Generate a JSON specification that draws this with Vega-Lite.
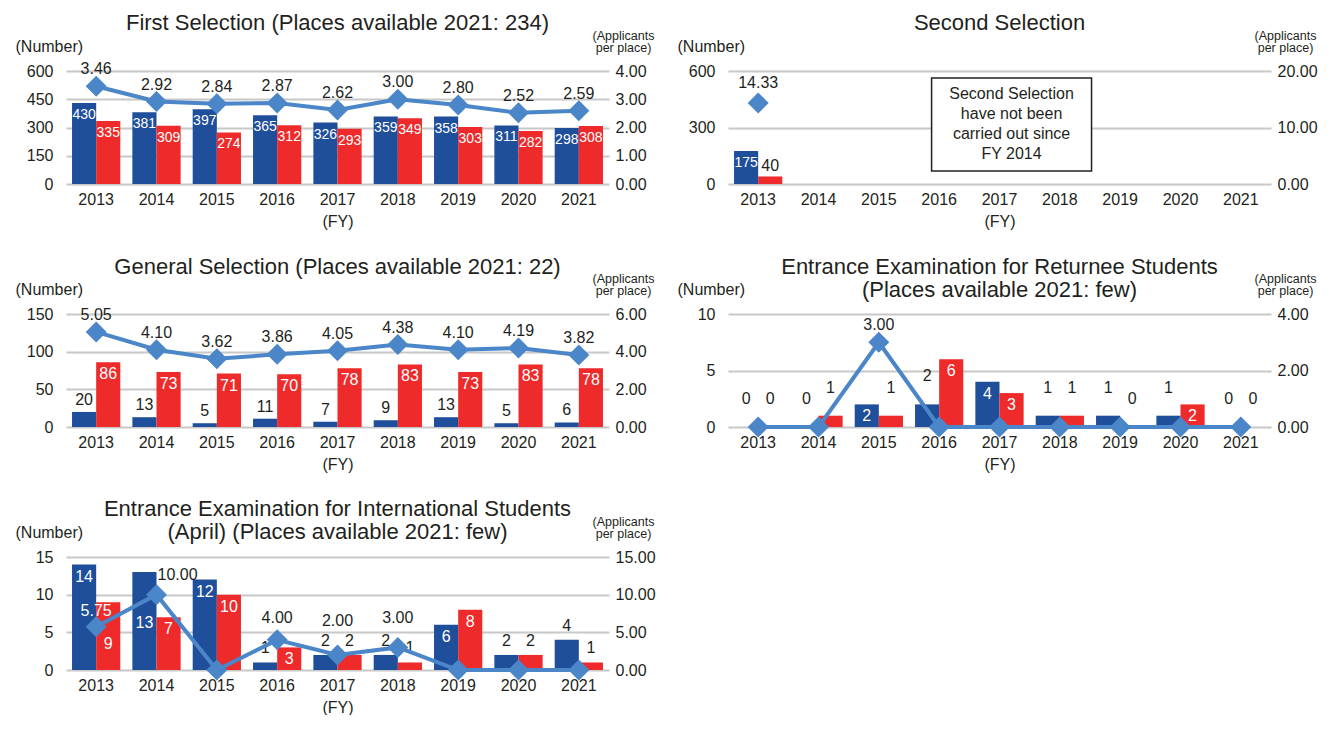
{
  "$schema": "https://vega.github.io/schema/vega-lite/v6.json",
  "background": "white",
  "padding": {"left": 15, "top": 12, "right": 0, "bottom": 0},
  "datasets": {
    "counts": [
      {"panel": "first", "year": "2013", "series": "S1", "value": 430},
      {"panel": "first", "year": "2014", "series": "S1", "value": 381},
      {"panel": "first", "year": "2015", "series": "S1", "value": 397},
      {"panel": "first", "year": "2016", "series": "S1", "value": 365},
      {"panel": "first", "year": "2017", "series": "S1", "value": 326},
      {"panel": "first", "year": "2018", "series": "S1", "value": 359},
      {"panel": "first", "year": "2019", "series": "S1", "value": 358},
      {"panel": "first", "year": "2020", "series": "S1", "value": 311},
      {"panel": "first", "year": "2021", "series": "S1", "value": 298},
      {"panel": "first", "year": "2013", "series": "S2", "value": 335},
      {"panel": "first", "year": "2014", "series": "S2", "value": 309},
      {"panel": "first", "year": "2015", "series": "S2", "value": 274},
      {"panel": "first", "year": "2016", "series": "S2", "value": 312},
      {"panel": "first", "year": "2017", "series": "S2", "value": 293},
      {"panel": "first", "year": "2018", "series": "S2", "value": 349},
      {"panel": "first", "year": "2019", "series": "S2", "value": 303},
      {"panel": "first", "year": "2020", "series": "S2", "value": 282},
      {"panel": "first", "year": "2021", "series": "S2", "value": 308},
      {"panel": "second", "year": "2013", "series": "S1", "value": 175},
      {"panel": "second", "year": "2013", "series": "S2", "value": 40},
      {"panel": "general", "year": "2013", "series": "S1", "value": 20},
      {"panel": "general", "year": "2014", "series": "S1", "value": 13},
      {"panel": "general", "year": "2015", "series": "S1", "value": 5},
      {"panel": "general", "year": "2016", "series": "S1", "value": 11},
      {"panel": "general", "year": "2017", "series": "S1", "value": 7},
      {"panel": "general", "year": "2018", "series": "S1", "value": 9},
      {"panel": "general", "year": "2019", "series": "S1", "value": 13},
      {"panel": "general", "year": "2020", "series": "S1", "value": 5},
      {"panel": "general", "year": "2021", "series": "S1", "value": 6},
      {"panel": "general", "year": "2013", "series": "S2", "value": 86},
      {"panel": "general", "year": "2014", "series": "S2", "value": 73},
      {"panel": "general", "year": "2015", "series": "S2", "value": 71},
      {"panel": "general", "year": "2016", "series": "S2", "value": 70},
      {"panel": "general", "year": "2017", "series": "S2", "value": 78},
      {"panel": "general", "year": "2018", "series": "S2", "value": 83},
      {"panel": "general", "year": "2019", "series": "S2", "value": 73},
      {"panel": "general", "year": "2020", "series": "S2", "value": 83},
      {"panel": "general", "year": "2021", "series": "S2", "value": 78},
      {"panel": "returnee", "year": "2013", "series": "S1", "value": 0},
      {"panel": "returnee", "year": "2014", "series": "S1", "value": 0},
      {"panel": "returnee", "year": "2015", "series": "S1", "value": 2},
      {"panel": "returnee", "year": "2016", "series": "S1", "value": 2},
      {"panel": "returnee", "year": "2017", "series": "S1", "value": 4},
      {"panel": "returnee", "year": "2018", "series": "S1", "value": 1},
      {"panel": "returnee", "year": "2019", "series": "S1", "value": 1},
      {"panel": "returnee", "year": "2020", "series": "S1", "value": 1},
      {"panel": "returnee", "year": "2021", "series": "S1", "value": 0},
      {"panel": "returnee", "year": "2013", "series": "S2", "value": 0},
      {"panel": "returnee", "year": "2014", "series": "S2", "value": 1},
      {"panel": "returnee", "year": "2015", "series": "S2", "value": 1},
      {"panel": "returnee", "year": "2016", "series": "S2", "value": 6},
      {"panel": "returnee", "year": "2017", "series": "S2", "value": 3},
      {"panel": "returnee", "year": "2018", "series": "S2", "value": 1},
      {"panel": "returnee", "year": "2019", "series": "S2", "value": 0},
      {"panel": "returnee", "year": "2020", "series": "S2", "value": 2},
      {"panel": "returnee", "year": "2021", "series": "S2", "value": 0},
      {"panel": "intl", "year": "2013", "series": "S1", "value": 14},
      {"panel": "intl", "year": "2014", "series": "S1", "value": 13},
      {"panel": "intl", "year": "2015", "series": "S1", "value": 12},
      {"panel": "intl", "year": "2016", "series": "S1", "value": 1},
      {"panel": "intl", "year": "2017", "series": "S1", "value": 2},
      {"panel": "intl", "year": "2018", "series": "S1", "value": 2},
      {"panel": "intl", "year": "2019", "series": "S1", "value": 6},
      {"panel": "intl", "year": "2020", "series": "S1", "value": 2},
      {"panel": "intl", "year": "2021", "series": "S1", "value": 4},
      {"panel": "intl", "year": "2013", "series": "S2", "value": 9},
      {"panel": "intl", "year": "2014", "series": "S2", "value": 7},
      {"panel": "intl", "year": "2015", "series": "S2", "value": 10},
      {"panel": "intl", "year": "2016", "series": "S2", "value": 3},
      {"panel": "intl", "year": "2017", "series": "S2", "value": 2},
      {"panel": "intl", "year": "2018", "series": "S2", "value": 1},
      {"panel": "intl", "year": "2019", "series": "S2", "value": 8},
      {"panel": "intl", "year": "2020", "series": "S2", "value": 2},
      {"panel": "intl", "year": "2021", "series": "S2", "value": 1}
    ],
    "rates": [
      {"panel": "first", "year": "2013", "rate": 3.46},
      {"panel": "first", "year": "2014", "rate": 2.92},
      {"panel": "first", "year": "2015", "rate": 2.84},
      {"panel": "first", "year": "2016", "rate": 2.87},
      {"panel": "first", "year": "2017", "rate": 2.62},
      {"panel": "first", "year": "2018", "rate": 3.00},
      {"panel": "first", "year": "2019", "rate": 2.80},
      {"panel": "first", "year": "2020", "rate": 2.52},
      {"panel": "first", "year": "2021", "rate": 2.59},
      {"panel": "second", "year": "2013", "rate": 14.33},
      {"panel": "general", "year": "2013", "rate": 5.05},
      {"panel": "general", "year": "2014", "rate": 4.10},
      {"panel": "general", "year": "2015", "rate": 3.62},
      {"panel": "general", "year": "2016", "rate": 3.86},
      {"panel": "general", "year": "2017", "rate": 4.05},
      {"panel": "general", "year": "2018", "rate": 4.38},
      {"panel": "general", "year": "2019", "rate": 4.10},
      {"panel": "general", "year": "2020", "rate": 4.19},
      {"panel": "general", "year": "2021", "rate": 3.82},
      {"panel": "returnee", "year": "2013", "rate": 0},
      {"panel": "returnee", "year": "2014", "rate": 0},
      {"panel": "returnee", "year": "2015", "rate": 3.00},
      {"panel": "returnee", "year": "2016", "rate": 0},
      {"panel": "returnee", "year": "2017", "rate": 0},
      {"panel": "returnee", "year": "2018", "rate": 0},
      {"panel": "returnee", "year": "2019", "rate": 0},
      {"panel": "returnee", "year": "2020", "rate": 0},
      {"panel": "returnee", "year": "2021", "rate": 0},
      {"panel": "intl", "year": "2013", "rate": 5.75},
      {"panel": "intl", "year": "2014", "rate": 10.00},
      {"panel": "intl", "year": "2015", "rate": 0},
      {"panel": "intl", "year": "2016", "rate": 4.00},
      {"panel": "intl", "year": "2017", "rate": 2.00},
      {"panel": "intl", "year": "2018", "rate": 3.00},
      {"panel": "intl", "year": "2019", "rate": 0},
      {"panel": "intl", "year": "2020", "rate": 0},
      {"panel": "intl", "year": "2021", "rate": 0}
    ],
    "notes": [
      {"panel": "second", "year": "2017", "series": "S2", "value": 316, "note": ["Second Selection", "have not been", "carried out since", "FY 2014"]}
    ]
  },
  "columns": 2,
  "spacing": {"row": 130, "column": 119},
  "bounds": "flush",
  "concat": [
    {
      "width": 543, "height": 113,
      "title": {"text": "First Selection (Places available 2021: 234)", "offset": -6},
      "layer": [
        {
          "data": {"name": "counts"},
          "transform": [{"filter": "datum.panel === 'first'"}],
          "encoding": {
            "x": {"field": "year", "type": "nominal", "scale": {"domain": ["2013","2014","2015","2016","2017","2018","2019","2020","2021"], "paddingInner": 0.2, "paddingOuter": 0.1}, "axis": {"title": "(FY)"}},
            "xOffset": {"field": "series", "type": "nominal", "scale": {"domain": ["S1", "S2"]}},
            "y": {"field": "value", "type": "quantitative", "scale": {"domain": [0, 600]}, "axis": {"orient": "left", "values": [0, 150, 300, 450, 600], "title": "(Number)"}}
          },
          "layer": [
            {"mark": {"type": "bar"}, "encoding": {"color": {"field": "series", "type": "nominal", "scale": {"domain": ["S1", "S2"], "range": ["#1F4E9A", "#EE2A2A"]}, "legend": null}}},
            {"mark": {"type": "text", "color": "white", "dy": 12, "fontSize": 14}, "encoding": {"text": {"field": "value", "type": "quantitative"}}}
          ]
        },
        {
          "data": {"name": "rates"},
          "transform": [{"filter": "datum.panel === 'first'"}],
          "encoding": {
            "x": {"field": "year", "type": "nominal", "axis": {"title": "(FY)"}},
            "y": {"field": "rate", "type": "quantitative", "scale": {"domain": [0, 4]}, "axis": {"orient": "right", "values": [0, 1, 2, 3, 4], "format": ".2f", "title": ["(Applicants", "per place)"]}}
          },
          "layer": [
            {"mark": {"type": "line", "color": "#4A86C8", "strokeWidth": 4}},
            {"mark": {"type": "point", "shape": "diamond", "filled": true, "size": 441, "color": "#4A86C8", "opacity": 1}},
            {"transform": [{"filter": "datum.rate > 0"}], "mark": {"type": "text", "dy": -17, "fontSize": 16}, "encoding": {"text": {"field": "rate", "type": "quantitative", "format": ".2f"}}}
          ]
        }
      ],
      "resolve": {"scale": {"y": "independent"}}
    },
    {
      "width": 543, "height": 113,
      "title": {"text": "Second Selection", "offset": -6},
      "layer": [
        {
          "data": {"name": "counts"},
          "transform": [{"filter": "datum.panel === 'second'"}],
          "encoding": {
            "x": {"field": "year", "type": "nominal", "scale": {"domain": ["2013","2014","2015","2016","2017","2018","2019","2020","2021"], "paddingInner": 0.2, "paddingOuter": 0.1}, "axis": {"title": "(FY)"}},
            "xOffset": {"field": "series", "type": "nominal", "scale": {"domain": ["S1", "S2"]}},
            "y": {"field": "value", "type": "quantitative", "scale": {"domain": [0, 600]}, "axis": {"orient": "left", "values": [0, 300, 600], "title": "(Number)"}}
          },
          "layer": [
            {"mark": {"type": "bar"}, "encoding": {"color": {"field": "series", "type": "nominal", "scale": {"domain": ["S1", "S2"], "range": ["#1F4E9A", "#EE2A2A"]}, "legend": null}}},
            {"transform": [{"filter": "datum.value >= 100"}], "mark": {"type": "text", "color": "white", "dy": 12, "fontSize": 14}, "encoding": {"text": {"field": "value", "type": "quantitative"}}},
            {"transform": [{"filter": "datum.value < 100"}], "mark": {"type": "text", "dy": -10, "fontSize": 16}, "encoding": {"text": {"field": "value", "type": "quantitative"}}},
            {"data": {"name": "notes"}, "mark": {"type": "point", "shape": "M-1.72,-1L1.72,-1L1.72,1L-1.72,1Z", "size": 8649, "filled": true, "fill": "white", "stroke": "#231f20", "strokeWidth": 1.5, "opacity": 1}},
            {"data": {"name": "notes"}, "mark": {"type": "text", "fontSize": 16, "lineHeight": 20, "dy": -30}, "encoding": {"text": {"field": "note", "type": "nominal"}}}
          ]
        },
        {
          "data": {"name": "rates"},
          "transform": [{"filter": "datum.panel === 'second'"}],
          "encoding": {
            "x": {"field": "year", "type": "nominal", "axis": {"title": "(FY)"}},
            "y": {"field": "rate", "type": "quantitative", "scale": {"domain": [0, 20]}, "axis": {"orient": "right", "values": [0, 10, 20], "format": ".2f", "title": ["(Applicants", "per place)"]}}
          },
          "layer": [
            {"mark": {"type": "point", "shape": "diamond", "filled": true, "size": 441, "color": "#4A86C8", "opacity": 1}},
            {"transform": [{"filter": "datum.rate > 0"}], "mark": {"type": "text", "dy": -20, "fontSize": 16}, "encoding": {"text": {"field": "rate", "type": "quantitative", "format": ".2f"}}}
          ]
        }
      ],
      "resolve": {"scale": {"y": "independent"}}
    },
    {
      "width": 543, "height": 113,
      "title": {"text": "General Selection (Places available 2021: 22)", "offset": -7},
      "layer": [
        {
          "data": {"name": "counts"},
          "transform": [{"filter": "datum.panel === 'general'"}],
          "encoding": {
            "x": {"field": "year", "type": "nominal", "scale": {"domain": ["2013","2014","2015","2016","2017","2018","2019","2020","2021"], "paddingInner": 0.2, "paddingOuter": 0.1}, "axis": {"title": "(FY)"}},
            "xOffset": {"field": "series", "type": "nominal", "scale": {"domain": ["S1", "S2"]}},
            "y": {"field": "value", "type": "quantitative", "scale": {"domain": [0, 150]}, "axis": {"orient": "left", "values": [0, 50, 100, 150], "title": "(Number)"}}
          },
          "layer": [
            {"mark": {"type": "bar"}, "encoding": {"color": {"field": "series", "type": "nominal", "scale": {"domain": ["S1", "S2"], "range": ["#1F4E9A", "#EE2A2A"]}, "legend": null}}},
            {"transform": [{"filter": "datum.value >= 50"}], "mark": {"type": "text", "color": "white", "dy": 12, "fontSize": 16}, "encoding": {"text": {"field": "value", "type": "quantitative"}}},
            {"transform": [{"filter": "datum.value < 50"}], "mark": {"type": "text", "dy": -12, "fontSize": 16}, "encoding": {"text": {"field": "value", "type": "quantitative"}}}
          ]
        },
        {
          "data": {"name": "rates"},
          "transform": [{"filter": "datum.panel === 'general'"}],
          "encoding": {
            "x": {"field": "year", "type": "nominal", "axis": {"title": "(FY)"}},
            "y": {"field": "rate", "type": "quantitative", "scale": {"domain": [0, 6]}, "axis": {"orient": "right", "values": [0, 2, 4, 6], "format": ".2f", "title": ["(Applicants", "per place)"]}}
          },
          "layer": [
            {"mark": {"type": "line", "color": "#4A86C8", "strokeWidth": 4}},
            {"mark": {"type": "point", "shape": "diamond", "filled": true, "size": 441, "color": "#4A86C8", "opacity": 1}},
            {"transform": [{"filter": "datum.rate > 0"}], "mark": {"type": "text", "dy": -17, "fontSize": 16}, "encoding": {"text": {"field": "rate", "type": "quantitative", "format": ".2f"}}}
          ]
        }
      ],
      "resolve": {"scale": {"y": "independent"}}
    },
    {
      "width": 543, "height": 113,
      "title": {"text": ["Entrance Examination for Returnee Students", "(Places available 2021: few)"], "offset": -30, "lineHeight": 23},
      "layer": [
        {
          "data": {"name": "counts"},
          "transform": [{"filter": "datum.panel === 'returnee'"}],
          "encoding": {
            "x": {"field": "year", "type": "nominal", "scale": {"domain": ["2013","2014","2015","2016","2017","2018","2019","2020","2021"], "paddingInner": 0.2, "paddingOuter": 0.1}, "axis": {"title": "(FY)"}},
            "xOffset": {"field": "series", "type": "nominal", "scale": {"domain": ["S1", "S2"]}},
            "y": {"field": "value", "type": "quantitative", "scale": {"domain": [0, 10]}, "axis": {"orient": "left", "values": [0, 5, 10], "title": "(Number)"}}
          },
          "layer": [
            {"mark": {"type": "bar"}, "encoding": {"color": {"field": "series", "type": "nominal", "scale": {"domain": ["S1", "S2"], "range": ["#1F4E9A", "#EE2A2A"]}, "legend": null}}},
            {"transform": [{"filter": "datum.value >= 2 && !(datum.year === '2016' && datum.series === 'S1')"}], "mark": {"type": "text", "color": "white", "dy": 12, "fontSize": 16}, "encoding": {"text": {"field": "value", "type": "quantitative"}}},
            {"transform": [{"filter": "datum.value < 2 || (datum.year === '2016' && datum.series === 'S1')"}], "mark": {"type": "text", "dy": -28, "fontSize": 16}, "encoding": {"text": {"field": "value", "type": "quantitative"}}}
          ]
        },
        {
          "data": {"name": "rates"},
          "transform": [{"filter": "datum.panel === 'returnee'"}],
          "encoding": {
            "x": {"field": "year", "type": "nominal", "axis": {"title": "(FY)"}},
            "y": {"field": "rate", "type": "quantitative", "scale": {"domain": [0, 4]}, "axis": {"orient": "right", "values": [0, 2, 4], "format": ".2f", "title": ["(Applicants", "per place)"]}}
          },
          "layer": [
            {"mark": {"type": "line", "color": "#4A86C8", "strokeWidth": 4}},
            {"mark": {"type": "point", "shape": "diamond", "filled": true, "size": 441, "color": "#4A86C8", "opacity": 1}},
            {"transform": [{"filter": "datum.rate > 0"}], "mark": {"type": "text", "dy": -17, "fontSize": 16}, "encoding": {"text": {"field": "rate", "type": "quantitative", "format": ".2f"}}}
          ]
        }
      ],
      "resolve": {"scale": {"y": "independent"}}
    },
    {
      "width": 543, "height": 113,
      "title": {"text": ["Entrance Examination for International Students", "(April) (Places available 2021: few)"], "offset": -29, "lineHeight": 23},
      "layer": [
        {
          "data": {"name": "counts"},
          "transform": [{"filter": "datum.panel === 'intl'"}],
          "encoding": {
            "x": {"field": "year", "type": "nominal", "scale": {"domain": ["2013","2014","2015","2016","2017","2018","2019","2020","2021"], "paddingInner": 0.2, "paddingOuter": 0.1}, "axis": {"title": "(FY)"}},
            "xOffset": {"field": "series", "type": "nominal", "scale": {"domain": ["S1", "S2"]}},
            "y": {"field": "value", "type": "quantitative", "scale": {"domain": [0, 15]}, "axis": {"orient": "left", "values": [0, 5, 10, 15], "title": "(Number)"}}
          },
          "layer": [
            {"mark": {"type": "bar"}, "encoding": {"color": {"field": "series", "type": "nominal", "scale": {"domain": ["S1", "S2"], "range": ["#1F4E9A", "#EE2A2A"]}, "legend": null}}},
            {"transform": [{"filter": "datum.value >= 3 && !(datum.year === '2021' && datum.series === 'S1') && !(datum.year === '2013' && datum.series === 'S2') && !(datum.year === '2014' && datum.series === 'S1')"}], "mark": {"type": "text", "color": "white", "dy": 12, "fontSize": 16}, "encoding": {"text": {"field": "value", "type": "quantitative"}}},
            {"transform": [{"filter": "datum.year === '2013' && datum.series === 'S2'"}], "mark": {"type": "text", "color": "white", "dy": 42, "fontSize": 16}, "encoding": {"text": {"field": "value", "type": "quantitative"}}},
            {"transform": [{"filter": "datum.year === '2014' && datum.series === 'S1'"}], "mark": {"type": "text", "color": "white", "dy": 51, "fontSize": 16}, "encoding": {"text": {"field": "value", "type": "quantitative"}}},
            {"transform": [{"filter": "datum.value < 3 || (datum.year === '2021' && datum.series === 'S1')"}], "mark": {"type": "text", "dy": -14, "fontSize": 16}, "encoding": {"text": {"field": "value", "type": "quantitative"}}}
          ]
        },
        {
          "data": {"name": "rates"},
          "transform": [{"filter": "datum.panel === 'intl'"}],
          "encoding": {
            "x": {"field": "year", "type": "nominal", "axis": {"title": "(FY)"}},
            "y": {"field": "rate", "type": "quantitative", "scale": {"domain": [0, 15]}, "axis": {"orient": "right", "values": [0, 5, 10, 15], "format": ".2f", "title": ["(Applicants", "per place)"]}}
          },
          "layer": [
            {"mark": {"type": "line", "color": "#4A86C8", "strokeWidth": 4}},
            {"mark": {"type": "point", "shape": "diamond", "filled": true, "size": 441, "color": "#4A86C8", "opacity": 1}},
            {"transform": [{"filter": "datum.year === '2013'"}], "mark": {"type": "text", "dy": -16, "fontSize": 16, "color": "white"}, "encoding": {"text": {"field": "rate", "type": "quantitative", "format": ".2f"}}},
            {"transform": [{"filter": "datum.year === '2014'"}], "mark": {"type": "text", "dy": -20, "dx": 21, "fontSize": 16}, "encoding": {"text": {"field": "rate", "type": "quantitative", "format": ".2f"}}},
            {"transform": [{"filter": "datum.year === '2016'"}], "mark": {"type": "text", "dy": -22, "fontSize": 16}, "encoding": {"text": {"field": "rate", "type": "quantitative", "format": ".2f"}}},
            {"transform": [{"filter": "datum.year === '2017'"}], "mark": {"type": "text", "dy": -34, "fontSize": 16}, "encoding": {"text": {"field": "rate", "type": "quantitative", "format": ".2f"}}},
            {"transform": [{"filter": "datum.year === '2018'"}], "mark": {"type": "text", "dy": -29, "fontSize": 16}, "encoding": {"text": {"field": "rate", "type": "quantitative", "format": ".2f"}}}
          ]
        }
      ],
      "resolve": {"scale": {"y": "independent"}}
    }
  ],
  "config": {
    "font": "Liberation Sans",
    "view": {"stroke": null},
    "axis": {"domain": false, "ticks": false, "labelFont": "Liberation Sans", "labelFontSize": 16, "labelColor": "#231f20", "titleFont": "Liberation Sans", "titleFontWeight": "normal", "titleColor": "#231f20", "gridColor": "#c8c8c8", "gridWidth": 2},
    "axisX": {"labelAngle": 0, "labelPadding": 7, "titleFontSize": 16, "titlePadding": 6, "grid": false},
    "axisLeft": {"grid": true, "labelPadding": 13, "titleAngle": 0, "titleAlign": "left", "titleBaseline": "middle", "titleX": -51, "titleY": -25, "titleFontSize": 16},
    "axisRight": {"grid": false, "labelPadding": 6, "titleAngle": 0, "titleAlign": "center", "titleBaseline": "top", "titleX": 14, "titleY": -42, "titleFontSize": 12.5, "titleLineHeight": 12},
    "title": {"font": "Liberation Sans", "fontSize": 22, "fontWeight": "normal", "color": "#231f20", "anchor": "middle", "frame": "group"},
    "text": {"font": "Liberation Sans", "color": "#231f20"}
  }
}
